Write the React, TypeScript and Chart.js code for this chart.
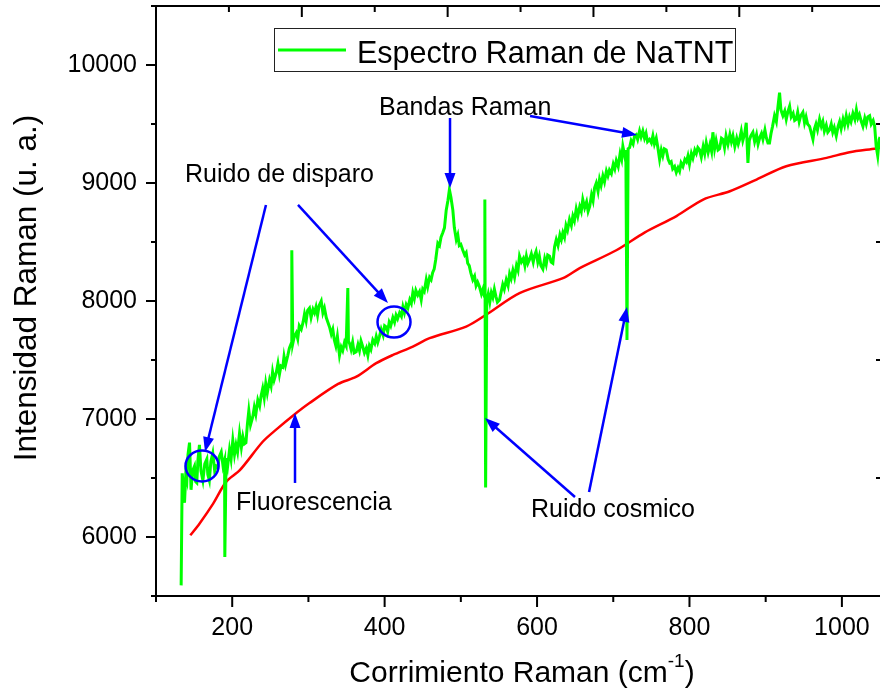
import React, { useEffect, useRef } from 'react';
import { Chart, registerables } from 'chart.js';

Chart.register(...registerables);

// ---------- DATA ----------
const spectrumLabel = 'Espectro Raman de NaTNT';
const baselineLabel = 'Fluorescencia';

const spectrumShift = [
  133, 134.4, 136, 137.4, 139, 140.5, 142, 144, 146, 148,
  150.5, 152, 153.5, 155, 157, 159, 161.5, 164, 166.7, 168,
  170, 172, 174.5, 177, 179, 181, 183, 185.6, 188, 190,
  190.3, 192, 194, 196.5, 198.5, 200.8, 203, 205, 207, 209.6,
  212, 214, 216, 218, 220, 221.8, 224, 227, 229, 231,
  233.6, 236, 238, 240, 242, 244, 246, 249, 251, 253,
  255, 257.7, 260, 262, 264, 266.4, 268, 270, 273, 275,
  277.4, 278.2, 279.5, 281.5, 284, 286, 288, 290.6, 293, 294.9,
  297, 299, 301.4, 303.5, 306, 308, 310, 312, 314, 316.8,
  319, 321, 323.4, 325.5, 327.7, 330, 332, 334, 336, 338,
  340.8, 343, 345, 347.4, 349.5, 351.7, 352.5, 354, 356, 358,
  360, 362.7, 365, 367, 369, 371.4, 373.5, 376, 378, 380,
  382, 384.5, 387, 389, 391, 393.3, 395.5, 398, 400, 402,
  404, 406, 408, 410.8, 413, 415, 417, 419.6, 422, 424,
  426, 428.3, 430.5, 433, 435, 437, 439, 441, 443.5, 445.8,
  448, 450, 452, 454.6, 456.5, 459, 461, 463, 465, 467,
  469.8, 472, 474, 476.4, 478.5, 480.8, 483, 485, 487, 489.5,
  491.5, 494, 496, 498, 500, 502.6, 505, 507, 509, 511,
  513, 515.7, 518, 520, 522, 524.5, 527, 529, 531, 531.5,
  532.5, 534, 536, 538, 540, 542, 544, 546, 548, 550.8,
  553, 555, 557, 559.6, 562, 564, 566, 568.3, 570.5, 573,
  575, 577, 579.5, 582, 584, 586, 588, 590, 592.5, 595,
  596.5, 598.7, 601, 603, 605, 607.6, 610, 612, 614, 616.4,
  618.5, 620.7, 623, 625.2, 627.5, 630, 631.9, 633.9, 636, 638,
  640, 642.6, 645, 647, 649, 651.4, 653.5, 656, 658, 660,
  662.5, 665, 667, 669, 671.5, 673.5, 675.5, 677.7, 680, 682,
  684, 686.4, 688.5, 691, 693, 695, 697.5, 700, 702, 704,
  706.5, 709, 711, 712.6, 715, 716.5, 718, 719.5, 721.4, 723.5,
  726, 728, 730, 732, 734.5, 736.5, 738.8, 741, 743, 745,
  747.6, 750, 752, 754, 756.4, 758.5, 760.8, 763, 765, 767,
  769.5, 772, 774, 776, 778, 780.5, 782.7, 785, 787, 789,
  791.4, 794, 796, 798, 800, 802.5, 804.5, 807, 809, 811,
  813.3, 815.5, 818, 820, 822, 824.5, 827, 829, 830.7, 833,
  835, 837.5, 839.5, 842, 843.9, 846, 848, 850.5, 853, 855,
  857, 859.5, 862, 864, 865.8, 868, 870, 872.5, 874.5, 876.7,
  878.5, 880.5, 883.2, 885.5, 888, 890, 892.5, 894.5, 896.4, 899,
  901, 903, 905, 907, 909, 911.6, 914, 916, 918.2, 920,
  922.6, 925, 927, 929, 931.4, 933.5, 936, 938, 940, 942,
  944, 946, 948.8, 951, 953, 955, 957.6, 960, 962, 964,
  966, 968, 970.7, 973, 975, 977, 979.5, 981.5, 983.8, 986,
  988, 990, 992.6, 995, 997, 999, 1001.5, 1003.5, 1005.7, 1008,
  1010, 1012, 1014.5, 1017, 1019, 1021, 1023, 1025.5, 1027.6, 1030,
  1032, 1034, 1036.4, 1038.5, 1041, 1043, 1045, 1047, 1049, 1050,
];

const spectrumIntensity = [
  5590, 6540, 6420, 6290, 6520, 6480, 6700, 6800, 6400, 6560,
  6600, 6470, 6460, 6650, 6780, 6560, 6480, 6620, 6660, 6530,
  6480, 6640, 6710, 6560, 6600, 6590, 6680, 6720, 6600, 6650,
  5830, 6670, 6600, 6740, 6660, 6820, 6700, 6780, 6720, 6880,
  6760, 6850, 6790, 6800, 6960, 7070, 6950, 7020, 7100, 7040,
  7160, 7110, 7200, 7260, 7180, 7300, 7220, 7330, 7280, 7400,
  7330, 7390, 7470, 7380, 7450, 7440, 7530, 7460, 7540, 7600,
  7640, 8430, 7640, 7700, 7730, 7680, 7790, 7760, 7820, 7890,
  7830, 7920, 7940, 7860, 7930, 7900, 7950, 7880, 7960, 8000,
  7900, 7940, 7860, 7820, 7780, 7720, 7760, 7670, 7620, 7700,
  7540, 7610, 7580, 7650, 7620, 8110, 7660, 7640, 7590, 7650,
  7560, 7570, 7630, 7580, 7660, 7610, 7560, 7600, 7540, 7620,
  7590, 7670, 7640, 7700, 7650, 7700, 7760, 7710, 7790, 7780,
  7740, 7820, 7790, 7860, 7820, 7880, 7850, 7900, 7870, 7950,
  7900, 7970, 7940, 8010, 7980, 8070, 8020, 8090, 8050, 8080,
  8010, 8100, 8080, 8180, 8120, 8200, 8180, 8240, 8270, 8350,
  8490, 8470, 8540, 8580, 8620, 8770, 8850, 8945, 8880, 8770,
  8620, 8520, 8560, 8470, 8480, 8430, 8390, 8410, 8320, 8300,
  8240, 8180, 8210, 8130, 8160, 8120, 8060, 8100, 8040, 8860,
  6420, 8000, 8060, 7990, 8070, 8030, 8100, 8040, 7990, 8010,
  8080, 8140, 8100, 8180, 8130, 8230, 8190, 8260, 8200, 8300,
  8260, 8380, 8330, 8360, 8300, 8380, 8320, 8350, 8400, 8330,
  8380, 8420, 8330, 8380, 8300, 8270, 8360, 8310, 8390, 8380,
  8330, 8320, 8460, 8520, 8470, 8560, 8520, 8580, 8540, 8640,
  8600, 8690, 8640, 8720, 8680, 8780, 8720, 8800, 8760, 8860,
  8790, 8840, 8760, 8800, 8900, 8850, 8960, 9000, 8930, 9030,
  8980, 9060, 9010, 9100, 9060, 9110, 9080, 9160, 9120, 9190,
  9140, 9250, 9200, 9310, 9230, 9280, 7670, 9290, 9300, 9360,
  9330, 9400, 9410, 9370, 9440, 9390, 9440, 9380, 9420, 9350,
  9370, 9340, 9400, 9330, 9380, 9300, 9200, 9280, 9230, 9290,
  9280, 9200, 9170, 9180, 9120, 9140, 9090, 9130, 9100, 9170,
  9140, 9200, 9180, 9230, 9160, 9250, 9210, 9280, 9250, 9300,
  9280, 9220, 9310, 9250, 9340, 9260, 9330, 9270, 9430, 9290,
  9360, 9280, 9290, 9380, 9370, 9300, 9400, 9330, 9410, 9350,
  9400, 9310, 9380, 9330, 9370, 9440, 9360, 9420, 9510, 9170,
  9360, 9400, 9430, 9350, 9410, 9330, 9390, 9420, 9370, 9450,
  9380, 9340, 9340, 9420, 9480, 9570, 9520, 9640, 9766, 9620,
  9570, 9610, 9540, 9600, 9650, 9560, 9590, 9530, 9540, 9600,
  9520, 9570, 9600, 9510, 9560, 9500, 9480, 9420, 9370, 9460,
  9500, 9450, 9540, 9480, 9520, 9440, 9490, 9430, 9450, 9500,
  9430, 9470, 9400, 9480, 9520, 9460, 9540, 9490, 9570, 9500,
  9560, 9520, 9590, 9540, 9620, 9550, 9580, 9520, 9480, 9550,
  9500, 9560, 9570, 9500, 9530, 9480, 9310, 9230, 9370, 9390,
];

const baselineShift = [
  145, 157, 175, 192, 210, 240, 258, 280, 301, 339,
  363, 389, 411, 437, 459, 507, 533, 577, 634, 656,
  704, 741, 783, 818, 853, 888, 927, 980, 1010, 1045, 1050,
];
const baselineIntensity = [
  6014, 6113, 6283, 6467, 6566, 6807, 6912, 7030, 7133, 7297,
  7359, 7473, 7543, 7614, 7685, 7783, 7883, 8067, 8194, 8279,
  8430, 8580, 8720, 8860, 8930, 9029, 9142, 9213, 9261, 9293, 9300,
];

const xTickValues = [200, 400, 600, 800, 1000];
const yTickValues = [6000, 7000, 8000, 9000, 10000];
const xTitleMain = 'Corrimiento Raman (cm';
const xTitleSup = '-1';
const xTitleEnd = ')';
const yTitle = 'Intensidad Raman (u. a.)';

// ---------- ANNOTATIONS (data coordinates) ----------
const noteTexts = [
  { text: 'Ruido de disparo', x: 138, y: 9008 },
  { text: 'Bandas Raman', x: 392.6, y: 9576 },
  { text: 'Fluorescencia', x: 205, y: 6229 },
  { text: 'Ruido cosmico', x: 592, y: 6170 },
];
const noteArrows = [
  { x0: 244.3, y0: 8814, x1: 164.3, y1: 6720 },
  { x0: 286.3, y0: 8814, x1: 404.4, y1: 7983 },
  { x0: 485.8, y0: 9551, x1: 485.8, y1: 8958 },
  { x0: 590.8, y0: 9568, x1: 731.2, y1: 9407 },
  { x0: 282.4, y0: 6458, x1: 282.4, y1: 7051 },
  { x0: 649.8, y0: 6339, x1: 531.7, y1: 7008 },
  { x0: 668.2, y0: 6381, x1: 718, y1: 7949 },
];
const noteCircles = [
  { x: 160.4, y: 6602 },
  { x: 412.3, y: 7822 },
];

const FONT = "'Liberation Sans', Arial, Helvetica, sans-serif";
const GREEN = '#00ff00';
const RED = '#ff0000';
const BLUE = '#0000ff';

function drawArrow(ctx: CanvasRenderingContext2D, x0: number, y0: number, x1: number, y1: number) {
  const ang = Math.atan2(y1 - y0, x1 - x0);
  const hl = 15;
  const hw = 5.5;
  const bx = x1 - hl * Math.cos(ang);
  const by = y1 - hl * Math.sin(ang);
  ctx.beginPath();
  ctx.moveTo(x0, y0);
  ctx.lineTo(bx + 1 * Math.cos(ang), by + 1 * Math.sin(ang));
  ctx.stroke();
  ctx.beginPath();
  ctx.moveTo(x1, y1);
  ctx.lineTo(bx + hw * Math.sin(ang), by - hw * Math.cos(ang));
  ctx.lineTo(bx - hw * Math.sin(ang), by + hw * Math.cos(ang));
  ctx.closePath();
  ctx.fill();
}

const decorPlugin = {
  id: 'decor',
  afterDatasetsDraw(chart: any) {
    const ctx: CanvasRenderingContext2D = chart.ctx;
    const xs = chart.scales.x;
    const ys = chart.scales.y;
    const xt = chart.scales.xTop;
    const { left, right, top, bottom } = chart.chartArea;
    ctx.save();

    // annotations: arrows + circles
    ctx.strokeStyle = BLUE;
    ctx.fillStyle = BLUE;
    ctx.lineWidth = 2.5;
    ctx.lineCap = 'butt';
    noteArrows.forEach((a) =>
      drawArrow(ctx, xs.getPixelForValue(a.x0), ys.getPixelForValue(a.y0), xs.getPixelForValue(a.x1), ys.getPixelForValue(a.y1))
    );
    noteCircles.forEach((c) => {
      ctx.beginPath();
      ctx.ellipse(xs.getPixelForValue(c.x), ys.getPixelForValue(c.y), 16.5, 15.5, 0, 0, Math.PI * 2);
      ctx.stroke();
    });

    // annotation text
    ctx.fillStyle = '#000';
    ctx.font = `25px ${FONT}`;
    ctx.textAlign = 'left';
    ctx.textBaseline = 'alphabetic';
    noteTexts.forEach((t) => ctx.fillText(t.text, xs.getPixelForValue(t.x), ys.getPixelForValue(t.y)));

    // frame
    ctx.strokeStyle = '#000';
    ctx.lineWidth = 2;
    ctx.beginPath();
    ctx.moveTo(right + 2, top);
    ctx.lineTo(left, top);
    ctx.lineTo(left, bottom);
    ctx.lineTo(right + 2, bottom);
    ctx.stroke();

    ctx.lineWidth = 2;
    ctx.beginPath();
    // bottom ticks (outward)
    for (let v = 100; v <= 1050; v += 100) {
      const px = xs.getPixelForValue(v);
      const len = v % 200 === 0 ? 11 : 6;
      ctx.moveTo(px, bottom);
      ctx.lineTo(px, bottom + len);
    }
    // left ticks (outward)
    for (let v = 5500; v <= 10500; v += 500) {
      const py = ys.getPixelForValue(v);
      const len = v % 1000 === 0 ? 10 : 5;
      ctx.moveTo(left - len, py);
      ctx.lineTo(left, py);
    }
    // top ticks (inward)
    if (xt) {
      for (let v = 100; v <= xt.max; v += 100) {
        const px = xt.getPixelForValue(v);
        const len = v % 200 === 0 ? 11 : 6;
        ctx.moveTo(px, top);
        ctx.lineTo(px, top + len);
      }
    }
    // right ticks (inward, partly visible)
    for (let v = 6500; v <= 9500; v += 1000) {
      const py = ys.getPixelForValue(v);
      ctx.moveTo(right - 4, py);
      ctx.lineTo(right, py);
    }
    ctx.stroke();

    // legend
    const ds = chart.data.datasets[0];
    ctx.lineWidth = 1;
    ctx.strokeStyle = '#222';
    ctx.strokeRect(274.5, 28.5, 461, 43);
    ctx.strokeStyle = ds.borderColor;
    ctx.lineWidth = 3;
    ctx.beginPath();
    ctx.moveTo(278, 50);
    ctx.lineTo(346, 50);
    ctx.stroke();
    ctx.fillStyle = '#000';
    ctx.font = `30.5px ${FONT}`;
    ctx.fillText(ds.label, 357, 62.5);

    // x title with superscript
    const mainFont = `30px ${FONT}`;
    const supFont = `19px ${FONT}`;
    ctx.font = mainFont;
    const w1 = ctx.measureText(xTitleMain).width;
    const w3 = ctx.measureText(xTitleEnd).width;
    ctx.font = supFont;
    const w2 = ctx.measureText(xTitleSup).width;
    const total = w1 + w2 + w3;
    let sx = (left + right) / 2 + 4 - total / 2;
    const base = 682;
    ctx.font = mainFont;
    ctx.fillText(xTitleMain, sx, base);
    sx += w1;
    ctx.font = supFont;
    ctx.fillText(xTitleSup, sx, base - 15);
    sx += w2;
    ctx.font = mainFont;
    ctx.fillText(xTitleEnd, sx, base);

    // y title
    ctx.save();
    ctx.translate(36, 288);
    ctx.rotate(-Math.PI / 2);
    ctx.textAlign = 'center';
    ctx.font = `31.5px ${FONT}`;
    ctx.fillText(yTitle, 0, 0);
    ctx.restore();

    ctx.restore();
  },
};

export default function App() {
  const canvasRef = useRef<HTMLCanvasElement | null>(null);

  useEffect(() => {
    document.body.style.margin = '0';
    const canvas = canvasRef.current;
    if (!canvas) return;
    const tickFont = { family: FONT, size: 25 };
    const chart = new Chart(canvas, {
      type: 'line',
      data: {
        datasets: [
          {
            label: spectrumLabel,
            data: spectrumShift.map((x, i) => ({ x, y: spectrumIntensity[i] })),
            borderColor: GREEN,
            backgroundColor: GREEN,
            borderWidth: 3,
            pointRadius: 0,
            tension: 0,
            fill: false,
            order: 1,
          },
          {
            label: baselineLabel,
            data: baselineShift.map((x, i) => ({ x, y: baselineIntensity[i] })),
            borderColor: RED,
            backgroundColor: RED,
            borderWidth: 2.5,
            pointRadius: 0,
            tension: 0.3,
            fill: false,
            order: 2,
          },
        ],
      },
      options: {
        responsive: false,
        devicePixelRatio: 1,
        animation: false,
        layout: { padding: { top: 6, right: 0, left: 0, bottom: 0 } },
        plugins: { legend: { display: false }, tooltip: { enabled: false }, title: { display: false } },
        scales: {
          x: {
            type: 'linear',
            position: 'bottom',
            min: 100,
            max: 1050,
            grid: { display: false, drawTicks: false, tickLength: 0 },
            border: { display: false },
            ticks: { padding: 17, font: tickFont, color: '#000', maxRotation: 0, callback: (v: any) => String(v) },
            afterBuildTicks: (s: any) => {
              s.ticks = xTickValues.map((v) => ({ value: v }));
            },
            afterFit: (s: any) => {
              s.height = 102;
              s.paddingLeft = 0;
              s.paddingRight = 0;
            },
          },
          xTop: {
            type: 'linear',
            position: 'top',
            display: false,
            min: 0,
            max: 993,
          },
          y: {
            type: 'linear',
            position: 'left',
            min: 5500,
            max: 10500,
            grid: { display: false, drawTicks: false, tickLength: 0 },
            border: { display: false },
            ticks: { padding: 19, font: tickFont, color: '#000', callback: (v: any) => String(v) },
            afterBuildTicks: (s: any) => {
              s.ticks = yTickValues.map((v) => ({ value: v }));
            },
            afterFit: (s: any) => {
              s.width = 156;
              s.paddingTop = 0;
              s.paddingBottom = 0;
            },
          },
        },
      } as any,
      plugins: [decorPlugin],
    });
    return () => chart.destroy();
  }, []);

  return (
    <div style={{ position: 'absolute', left: 0, top: 0, width: 880, height: 698, background: '#fff' }}>
      <canvas ref={canvasRef} width={880} height={698} style={{ display: 'block', width: 880, height: 698 }} />
    </div>
  );
}
